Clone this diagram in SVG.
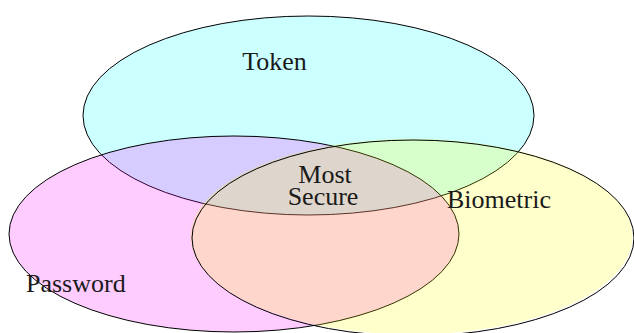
<svg xmlns="http://www.w3.org/2000/svg" width="634" height="333" viewBox="0 0 634 333">
<style>
.set{stroke:#000;stroke-width:1;fill-opacity:0.2}
.lbl{font-family:"Liberation Serif","Times New Roman",serif;font-size:26px;fill:#1a1a1a}
</style>
<rect width="634" height="333" fill="#fff"/>
<g id="token">
<ellipse class="set" cx="308.5" cy="115.5" rx="225.5" ry="99.5" fill="#00ffff"/>
<text class="lbl" x="274.5" y="70" text-anchor="middle">Token</text>
</g>
<g id="password">
<ellipse class="set" cx="234" cy="234" rx="225" ry="98" fill="#ff00ff"/>
<text class="lbl" x="26" y="292">Password</text>
</g>
<g id="biometric">
<ellipse cx="411.5" cy="236.5" rx="221" ry="98" fill="#ffff00" fill-opacity="0.2"/>
<ellipse cx="413" cy="238" rx="221" ry="98" fill="none" stroke="#000" stroke-width="1"/>
<text class="lbl" x="447" y="208">Biometric</text>
</g>
<g id="most-secure">
<text class="lbl" x="325" y="183" text-anchor="middle">Most</text>
<text class="lbl" x="323" y="205" text-anchor="middle">Secure</text>
</g>
<g id="connectors"/>
</svg>
